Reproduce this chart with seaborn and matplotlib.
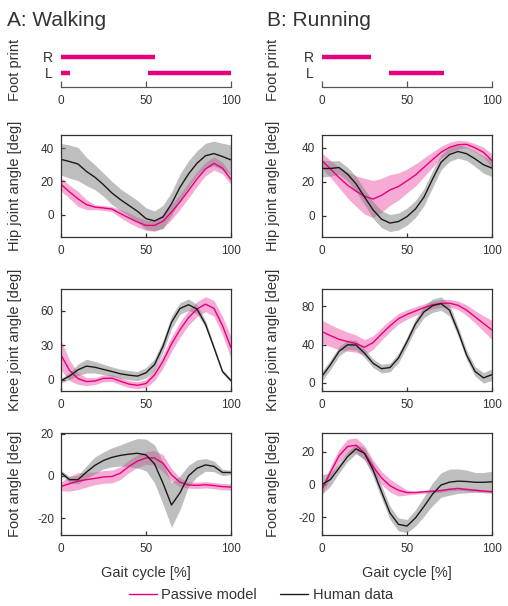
import numpy as np
import pandas as pd
import matplotlib
matplotlib.use('Agg')
import matplotlib.pyplot as plt
import seaborn as sns

# gait cycle grid [%]
gait = np.arange(0, 101, 5)

# foot contact intervals [% gait cycle]
walk_R = [(0, 55)]
walk_L = [(0, 5.5), (51, 100)]
run_R = [(0, 29)]
run_L = [(39.5, 72)]

# ---- walking ----
hip_walk_human = [33.3, 32, 30.5, 26, 22.5, 18, 13, 9, 5.5, 2, -2.4, -3.8, -1.4, 6.5, 16.5, 24.5, 31, 35.5, 36.8, 35, 33]
hip_walk_human_sd = [9.5, 10, 10, 8.5, 7.5, 7, 7, 6.5, 6.5, 6.5, 6.5, 6, 7, 7, 8, 8, 7.5, 7.5, 7.5, 8, 9]
hip_walk_model = [18.2, 13.7, 9.5, 6, 4.5, 4, 3.3, 0.6, -2, -4.5, -6.5, -6.5, -4, 1.5, 7.7, 14.5, 21.5, 27.5, 30.9, 28, 21.2]
hip_walk_model_sd = [4, 4, 4.5, 3, 1.5, 1.5, 1.5, 2.5, 3, 3, 3, 3.5, 4, 4.5, 4.5, 4.5, 4.5, 4, 4, 3.5, 3]

knee_walk_human = [-1, 3, 8.5, 11.7, 10.7, 8.8, 7, 5, 3.8, 3, 5.9, 13, 29, 50, 62, 65.3, 61.5, 48.3, 27.8, 7, -1]
knee_walk_human_sd = [2, 3, 5, 6, 5, 4.5, 4, 4, 4, 4, 4.5, 5, 5, 5.5, 5, 5, 4, 3, 2, 1.5, 1.5]
knee_walk_model = [21.4, 8, 0.8, -1.8, -1.3, 1, 1.2, -1.5, -4, -5, -3.5, 4, 16, 31, 43.5, 54, 61.5, 65.8, 62, 47, 27.8]
knee_walk_model_sd = [13, 9, 5, 3.5, 3, 3, 3, 3, 3, 3, 3.5, 5, 6, 6.5, 6.5, 6.5, 6.5, 6.5, 7, 8, 9.5]

foot_walk_human = [1.6, -1.8, -1.8, 1.8, 5, 7.3, 8.8, 9.7, 10.3, 10.7, 9.9, 5.7, -3.5, -13.8, -8, 0, 3.6, 5.2, 4.5, 1.6, 1.6]
foot_walk_human_sd = [1, 1.5, 2, 3, 4, 4, 4.5, 5, 6, 7, 7.5, 9, 10, 10.5, 8, 5, 4, 3, 2.5, 1.5, 1]
foot_walk_model = [-5, -3.7, -2.5, -1.8, -1.2, -0.5, -0.3, 1.3, 4.5, 7, 8.5, 8.5, 6, 0.5, -3, -4.3, -4.5, -4.2, -4.6, -5.1, -5.3]
foot_walk_model_sd = [2, 3.5, 4, 3.5, 3, 3, 3, 3, 3, 3, 3, 3.5, 4, 3, 2, 1.5, 1.5, 1.5, 1.5, 1.5, 1.5]

# ---- running ----
hip_run_human = [27.8, 27.8, 28.4, 24.5, 18.8, 11, 3.5, -2, -4.3, -3.4, -0.5, 4, 11, 21.5, 31.4, 36, 37.8, 36.5, 33.5, 30, 28]
hip_run_human_sd = [5, 4.5, 4, 4, 4.5, 4.5, 5, 5, 5, 5, 5, 5, 5, 5, 4.5, 4, 4, 4, 4.5, 5, 5]
hip_run_model = [32.4, 27.5, 22.5, 18, 14.5, 11.5, 9.8, 12, 15.2, 17.2, 20.5, 24, 28.5, 33, 37.3, 40.2, 41.8, 42, 40, 37.3, 32.4]
hip_run_model_sd = [4.5, 5, 6, 7.5, 9, 10.5, 11, 10, 9, 8, 7, 6.5, 5.5, 4.5, 3.5, 3, 2.5, 2, 2.5, 3, 4]

knee_run_human = [6.9, 19, 32.8, 39.7, 39.5, 31, 20.5, 14.8, 16, 26, 43, 61.5, 74.1, 80.5, 82.8, 75.9, 54, 29.3, 12, 5.2, 8.6]
knee_run_human_sd = [5, 5, 5, 5, 5, 4.5, 4.5, 4.5, 4.5, 5, 5, 5.5, 6, 7, 7, 6, 5, 5, 5, 5.5, 6]
knee_run_model = [53.4, 49.3, 45.5, 43.1, 41, 37.2, 42, 51, 59.5, 67, 71.5, 75, 78.5, 81.5, 83, 83.2, 81, 76, 69, 62, 55.2]
knee_run_model_sd = [12, 11.5, 11, 10, 9, 8, 7, 6.5, 6, 5.5, 5, 4.5, 4, 4, 4, 4, 4.5, 5.5, 6.5, 8, 10]

foot_run_human = [0, 3, 10, 17, 21.8, 19, 9, -4.5, -17.5, -24.5, -25.5, -20.5, -13.5, -6, -0.4, 1.4, 2, 1.8, 1.3, 1.3, 1.6]
foot_run_human_sd = [6, 4, 3, 3, 3, 3.5, 4, 4, 4, 4, 4, 5, 6, 7, 7.5, 8, 7.5, 7, 6, 6, 6.5]
foot_run_model = [-3, 7.5, 17.5, 23.2, 24, 19.3, 11, 4, -0.8, -3.6, -5, -5, -4.5, -4.2, -3.8, -3, -2.5, -3.1, -3.6, -4.1, -4.5]
foot_run_model_sd = [3, 3.5, 4, 4.5, 4.5, 4.5, 4, 4, 4, 3.5, 1.5, 1, 1, 1, 1, 1, 1, 1, 1, 1, 1]

MAGENTA = '#e6007e'
BLACK = '#1a1a1a'
EDGE = '#333333'

sns.set_theme(style='ticks')
plt.rcParams['font.family'] = ['Liberation Sans', 'DejaVu Sans']
plt.rcParams['text.color'] = EDGE
plt.rcParams['axes.labelcolor'] = EDGE
plt.rcParams['xtick.color'] = EDGE
plt.rcParams['ytick.color'] = EDGE

W, H = 508, 606
fig = plt.figure(figsize=(W / 100, H / 100), dpi=100)


def px_axes(l, t, r, b):
    return fig.add_axes([l / W, 1 - b / H, (r - l) / W, (b - t) / H])


def footprint(ax, right, left, lab_x):
    for y, spans in ((1, right), (0, left)):
        for s, e in spans:
            ax.hlines(y, s, e, color=MAGENTA, lw=3.2, capstyle='butt')
    ax.set_xlim(0, 100)
    ax.set_ylim(-0.875, 1.5)
    for side in ('top', 'right', 'left'):
        ax.spines[side].set_visible(False)
    ax.spines['bottom'].set_color('#555555')
    ax.spines['bottom'].set_linewidth(0.9)
    ax.set_xticks([0, 50, 100])
    ax.set_yticks([1, 0])
    ax.set_yticklabels(['R', 'L'])
    ax.tick_params(axis='x', direction='in', length=4, width=0.9, color='#555555',
                   labelsize=8.5, pad=6)
    ax.tick_params(axis='y', length=0, labelsize=10, pad=6)
    ax.set_ylabel('Foot print', fontsize=10.5)
    ax.yaxis.set_label_coords(lab_x, 0.45)
    ax.set_facecolor('none')


def angle_panel(ax, human, human_sd, model, model_sd, ylim, yticks, ylabel, lab_x, xlabel=False):
    human = np.array(human)
    human_sd = np.array(human_sd)
    model = np.array(model)
    model_sd = np.array(model_sd)
    ax.fill_between(gait, model - model_sd, model + model_sd, color=MAGENTA,
                    alpha=0.33, lw=0)
    ax.fill_between(gait, human - human_sd, human + human_sd, color='#7f7f7f',
                    alpha=0.5, lw=0)
    df = pd.DataFrame({'gait': np.concatenate([gait, gait]),
                       'angle': np.concatenate([model, human]),
                       'src': ['Passive model'] * len(gait) + ['Human data'] * len(gait)})
    sns.lineplot(data=df, x='gait', y='angle', hue='src',
                 palette={'Passive model': MAGENTA, 'Human data': BLACK},
                 lw=1.0, ax=ax, legend=False)
    ax.set_xlim(0, 100)
    ax.set_ylim(*ylim)
    ax.set_xticks([0, 50, 100])
    ax.set_yticks(yticks)
    ax.set_yticklabels([str(t) for t in yticks])
    for s in ax.spines.values():
        s.set_color(EDGE)
        s.set_linewidth(0.9)
    ax.tick_params(direction='in', length=3, width=0.9, labelsize=8.5)
    ax.tick_params(axis='x', pad=6)
    ax.tick_params(axis='y', pad=5)
    ax.set_ylabel(ylabel, fontsize=10.5)
    ax.yaxis.set_label_coords(lab_x, 0.5)
    ax.set_xlabel('Gait cycle [%]' if xlabel else '', fontsize=10.5, labelpad=8)


cols = {'walk': (61, 231, -0.23), 'run': (322, 492, -0.25)}
rows = [(135, 237), (289, 391), (433, 535)]

fig.text(7 / W, 1 - 25.5 / H, 'A: Walking', fontsize=15, va='baseline')
fig.text(267 / W, 1 - 25.5 / H, 'B: Running', fontsize=15, va='baseline')

for key, right, left in (('walk', walk_R, walk_L), ('run', run_R, run_L)):
    l, r, lx = cols[key]
    footprint(px_axes(l, 49, r, 87), right, left, lx)

panels = {
    'walk': [
        (hip_walk_human, hip_walk_human_sd, hip_walk_model, hip_walk_model_sd, (-13.5, 48), [0, 20, 40], 'Hip joint angle [deg]'),
        (knee_walk_human, knee_walk_human_sd, knee_walk_model, knee_walk_model_sd, (-10, 79), [0, 30, 60], 'Knee joint angle [deg]'),
        (foot_walk_human, foot_walk_human_sd, foot_walk_model, foot_walk_model_sd, (-28, 20.3), [-20, 0, 20], 'Foot angle [deg]'),
    ],
    'run': [
        (hip_run_human, hip_run_human_sd, hip_run_model, hip_run_model_sd, (-12.5, 47.5), [0, 20, 40], 'Hip joint angle [deg]'),
        (knee_run_human, knee_run_human_sd, knee_run_model, knee_run_model_sd, (-8.5, 98), [0, 40, 80], 'Knee joint angle [deg]'),
        (foot_run_human, foot_run_human_sd, foot_run_model, foot_run_model_sd, (-31, 31.5), [-20, 0, 20], 'Foot angle [deg]'),
    ],
}

for key, plist in panels.items():
    l, r, lx = cols[key]
    for i, (hm, hsd, mm, msd, yl, yt, lab) in enumerate(plist):
        t, b = rows[i]
        ax = px_axes(l, t, r, b)
        angle_panel(ax, hm, hsd, mm, msd, yl, yt, lab, lx, xlabel=(i == 2))

handles = [plt.Line2D([], [], color=MAGENTA, lw=1.0),
           plt.Line2D([], [], color=BLACK, lw=1.0)]
fig.legend(handles, ['Passive model', 'Human data'], loc='center',
           bbox_to_anchor=(261 / W, 1 - 595 / H), ncol=2, frameon=False,
           fontsize=10.5, handlelength=1.9, handletextpad=0.3, columnspacing=1.6)

fig.savefig('out.png', dpi=100)
